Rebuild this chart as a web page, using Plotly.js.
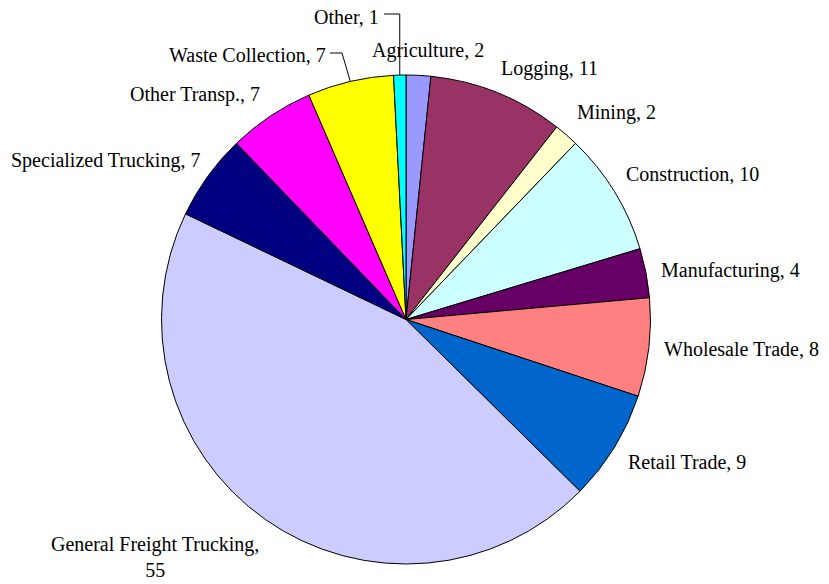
<!DOCTYPE html>
<html>
<head>
<meta charset="utf-8">
<script src="https://cdn.plot.ly/plotly-3.0.1.min.js"></script>
<style>
  html, body { margin: 0; padding: 0; background: #ffffff; }
  #chart { width: 829px; height: 584px; }
  #chart svg text { font-family: "Liberation Serif", serif !important; }
</style>
</head>
<body>
<div id="chart"></div>
<script>
// ---- data (clockwise from 12 o'clock) ----
const categories = ["Agriculture", "Logging", "Mining", "Construction", "Manufacturing",
  "Wholesale Trade", "Retail Trade", "General Freight Trucking", "Specialized Trucking",
  "Other Transp.", "Waste Collection", "Other"];
const values = [2, 11, 2, 10, 4, 8, 9, 55, 7, 7, 7, 1];
const labelTexts = ["Agriculture, 2", "Logging, 11", "Mining, 2", "Construction, 10",
  "Manufacturing, 4", "Wholesale Trade, 8", "Retail Trade, 9",
  "General Freight Trucking,<br>55", "Specialized Trucking, 7", "Other Transp., 7",
  "Waste Collection, 7", "Other, 1"];

// ---- styling ----
const colors = ["#9999FF", "#993366", "#FFFFCC", "#CCFFFF", "#660066", "#FF8080",
  "#0066CC", "#CCCCFF", "#000080", "#FF00FF", "#FFFF00", "#00FFFF"];

const W = 829, H = 584;
const cx = 406, cy = 319.5, R = 244.5;   // pie geometry in pixels
const px = x => x / W;
const py = y => 1 - y / H;

// label placement (pixels): [x, y, xanchor]
const labelPlace = [
  [428, 50, "center"], [499, 69, "left"], [575, 112, "left"], [624, 174.5, "left"],
  [659, 270, "left"], [662, 349, "left"], [626, 462, "left"], [155, 556.5, "center"],
  [202, 160, "right"], [262, 94.5, "right"], [328, 54.5, "right"], [381, 17, "right"]
];

const annotations = labelTexts.map((t, i) => ({
  x: px(labelPlace[i][0]), y: py(labelPlace[i][1]), xref: "paper", yref: "paper",
  text: t, showarrow: false, xanchor: labelPlace[i][2], yanchor: "middle",
  align: "center", font: { family: "Liberation Serif", size: 20, color: "#000000" }
}));

// leader lines for the two labels moved away from their slices
const total = values.reduce((a, b) => a + b, 0);
function edgePoint(i) {
  let before = 0;
  for (let k = 0; k < i; k++) before += values[k];
  const mid = (before + values[i] / 2) / total * 2 * Math.PI;
  return [cx + R * Math.sin(mid), cy - R * Math.cos(mid)];
}
const iOther = categories.indexOf("Other");
const iWaste = categories.indexOf("Waste Collection");
const eO = edgePoint(iOther), eW = edgePoint(iWaste);
const shapes = [
  { type: "path", xref: "paper", yref: "paper",
    path: `M ${px(384)} ${py(14)} L ${px(eO[0])} ${py(14)} L ${px(eO[0])} ${py(eO[1])}`,
    line: { color: "#000000", width: 1 } },
  { type: "path", xref: "paper", yref: "paper",
    path: `M ${px(330)} ${py(53)} L ${px(342)} ${py(53)} L ${px(eW[0])} ${py(eW[1])}`,
    line: { color: "#000000", width: 1 } }
];

const trace = {
  type: "pie",
  labels: categories,
  values: values,
  sort: false,
  direction: "clockwise",
  rotation: 0,
  textinfo: "none",
  hoverinfo: "label+value",
  marker: { colors: colors, line: { color: "#000000", width: 1 } },
  domain: { x: [px(cx - R), px(cx + R)], y: [py(cy + R), py(cy - R)] },
  showlegend: false
};

const layout = {
  width: W, height: H,
  margin: { l: 0, r: 0, t: 0, b: 0 },
  paper_bgcolor: "#ffffff",
  plot_bgcolor: "#ffffff",
  showlegend: false,
  font: { family: "Liberation Serif", size: 20, color: "#000000" },
  annotations: annotations,
  shapes: shapes
};

Plotly.newPlot("chart", [trace], layout, { displayModeBar: false });
</script>
</body>
</html>
